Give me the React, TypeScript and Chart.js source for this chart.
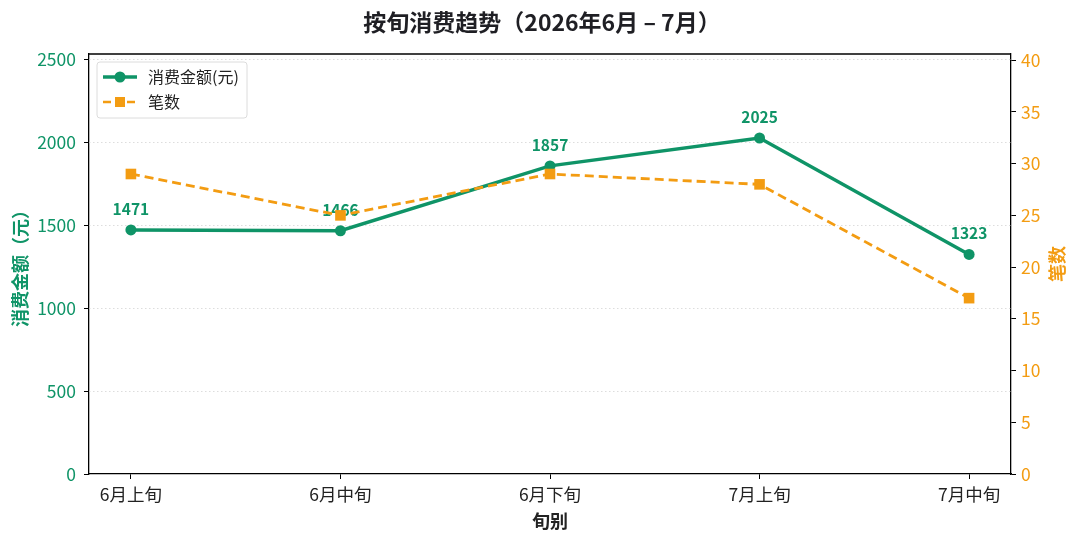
import { useEffect, useRef } from "react"
import { Chart, registerables, type Plugin } from "chart.js"

Chart.register(...registerables)

const periods = ["6月上旬", "6月中旬", "6月下旬", "7月上旬", "7月中旬"]
const amounts = [1471, 1466, 1857, 2025, 1323]
const counts = [29, 25, 29, 28, 17]
const amountTicks = [0, 500, 1000, 1500, 2000, 2500]
const countTicks = [0, 5, 10, 15, 20, 25, 30, 35, 40]

const GREEN = "#0f9467"
const ORANGE = "#f39c12"
const FONT = "'Noto Sans CJK SC', 'Noto Sans', sans-serif"

const decor: Plugin<"line"> = {
  id: "decor",
  beforeDatasetsDraw(chart) {
    const { ctx, chartArea: a, scales } = chart
    ctx.save()
    ctx.strokeStyle = "#d4d4d4"
    ctx.lineWidth = 0.8
    ctx.setLineDash([1.5, 2.5])
    for (const t of amountTicks) {
      if (t === 0) continue
      const py = Math.round(scales.y.getPixelForValue(t)) + 0.5
      ctx.beginPath()
      ctx.moveTo(a.left, py)
      ctx.lineTo(a.right, py)
      ctx.stroke()
    }
    ctx.restore()
  },
  afterDatasetDraw(chart, args) {
    // labels go on after the green line, so the orange line is drawn over them
    if (args.index !== 0) return
    const { ctx, scales } = chart
    ctx.save()
    ctx.fillStyle = GREEN
    ctx.font = `bold 15.5px ${FONT}`
    ctx.textAlign = "center"
    ctx.textBaseline = "middle"
    amounts.forEach((v, i) => {
      const px = scales.x.getPixelForValue(i)
      const py = scales.y.getPixelForValue(v)
      ctx.fillText(String(v), px, py - 21)
    })
    ctx.restore()
  },
  afterDraw(chart) {
    const { ctx, chartArea: a } = chart
    ctx.save()
    // top spine
    ctx.strokeStyle = "#000"
    ctx.lineWidth = 1.3
    ctx.beginPath()
    ctx.moveTo(a.left, a.top)
    ctx.lineTo(a.right, a.top)
    ctx.stroke()

    ctx.textAlign = "center"
    ctx.textBaseline = "middle"
    ctx.fillStyle = "#1f1f24"
    ctx.font = `bold 23px ${FONT}`
    ctx.fillText("按旬消费趋势（2026年6月 \u2013 7月）", 542, 22)

    ctx.fillStyle = "#222"
    ctx.font = `bold 18px ${FONT}`
    ctx.fillText("旬别", (a.left + a.right) / 2, 521)

    const midY = (a.top + a.bottom) / 2
    ctx.fillStyle = GREEN
    ctx.save()
    ctx.translate(20, midY)
    ctx.rotate(-Math.PI / 2)
    ctx.fillText("消费金额（元）", 0, 0)
    ctx.restore()

    ctx.fillStyle = ORANGE
    ctx.save()
    ctx.translate(1057, midY)
    ctx.rotate(-Math.PI / 2)
    ctx.fillText("笔数", 0, 0)
    ctx.restore()

    // legend
    const lx = a.left + 8
    const ly = a.top + 8
    ctx.fillStyle = "rgba(255,255,255,0.85)"
    ctx.strokeStyle = "#dcdcdc"
    ctx.lineWidth = 1
    ctx.beginPath()
    ctx.roundRect(lx, ly, 150, 56, 3)
    ctx.fill()
    ctx.stroke()

    const rows = [
      { label: "消费金额(元)", color: GREEN, dash: [] as number[], width: 3.5, marker: "circle" },
      { label: "笔数", color: ORANGE, dash: [8, 4], width: 2.5, marker: "rect" },
    ]
    rows.forEach((r, i) => {
      const y = ly + 15 + i * 25
      ctx.strokeStyle = r.color
      ctx.lineWidth = r.width
      ctx.setLineDash(r.dash)
      ctx.beginPath()
      ctx.moveTo(lx + 6, y)
      ctx.lineTo(lx + 40, y)
      ctx.stroke()
      ctx.setLineDash([])
      ctx.fillStyle = r.color
      if (r.marker === "circle") {
        ctx.beginPath()
        ctx.arc(lx + 23, y, 5.5, 0, Math.PI * 2)
        ctx.fill()
      } else {
        ctx.fillRect(lx + 18, y - 5, 10, 10)
      }
      ctx.fillStyle = "#222"
      ctx.font = `16px ${FONT}`
      ctx.textAlign = "left"
      ctx.fillText(r.label, lx + 51, y)
    })
    ctx.restore()
  },
}

export default function App() {
  const chartRef = useRef<HTMLCanvasElement>(null)
  const chartInstance = useRef<Chart | null>(null)

  useEffect(() => {
    document.body.style.margin = "0"
    if (!chartRef.current) return
    if (chartInstance.current) chartInstance.current.destroy()
    const ctx = chartRef.current.getContext("2d")
    if (!ctx) return

    chartInstance.current = new Chart(ctx, {
      type: "line",
      data: {
        datasets: [
          {
            label: "消费金额(元)",
            data: amounts.map((v, i) => ({ x: i, y: v })),
            yAxisID: "y",
            borderColor: GREEN,
            backgroundColor: GREEN,
            borderWidth: 3.5,
            pointRadius: 5.5,
            pointStyle: "circle",
            pointBorderWidth: 0,
            tension: 0,
            order: 1,
          },
          {
            label: "笔数",
            data: counts.map((v, i) => ({ x: i, y: v })),
            yAxisID: "y1",
            borderColor: ORANGE,
            backgroundColor: ORANGE,
            borderWidth: 2.8,
            borderDash: [9, 5],
            pointRadius: 7.5,
            pointStyle: "rect",
            pointBorderWidth: 0,
            tension: 0,
            order: 0,
          },
        ],
      },
      options: {
        responsive: false,
        animation: false,
        layout: { padding: { top: 54, left: 0, right: 0, bottom: 0 } },
        plugins: {
          legend: { display: false },
          title: { display: false },
          tooltip: { enabled: false },
        },
        scales: {
          x: {
            type: "linear",
            min: -0.2,
            max: 4.2,
            afterBuildTicks: (s) => {
              s.ticks = periods.map((_, i) => ({ value: i }))
            },
            afterFit: (s) => {
              s.height = 71
            },
            ticks: {
              callback: (v) => periods[Number(v)] ?? "",
              color: "#222",
              font: { family: FONT, size: 17.5 },
              padding: 5,
              maxRotation: 0,
              autoSkip: false,
            },
            grid: { drawOnChartArea: false, tickLength: 5, tickColor: "#000", lineWidth: 1 },
            border: { color: "#000", width: 1.3 },
          },
          y: {
            position: "left",
            min: 0,
            max: 2531.25,
            afterBuildTicks: (s) => {
              s.ticks = amountTicks.map((v) => ({ value: v }))
            },
            afterFit: (s) => {
              s.width = 89
            },
            ticks: {
              callback: (v) => String(v),
              color: GREEN,
              font: { family: FONT, size: 17.5 },
              padding: 8,
            },
            grid: { drawOnChartArea: false, tickLength: 5, tickColor: "#000", lineWidth: 1 },
            border: { color: "#000", width: 1.3 },
          },
          y1: {
            position: "right",
            min: 0,
            max: 40.6,
            afterBuildTicks: (s) => {
              s.ticks = countTicks.map((v) => ({ value: v }))
            },
            afterFit: (s) => {
              s.width = 69
            },
            ticks: {
              callback: (v) => String(v),
              color: ORANGE,
              font: { family: FONT, size: 17.5 },
              padding: 5,
            },
            grid: { drawOnChartArea: false, tickLength: 5, tickColor: "#000", lineWidth: 1 },
            border: { color: "#000", width: 1.3 },
          },
        },
      },
      plugins: [decor],
    })

    return () => {
      if (chartInstance.current) {
        chartInstance.current.destroy()
        chartInstance.current = null
      }
    }
  }, [])

  return (
    <div style={{ width: 1080, height: 545 }}>
      <canvas ref={chartRef} width={1080} height={545}></canvas>
    </div>
  )
}
